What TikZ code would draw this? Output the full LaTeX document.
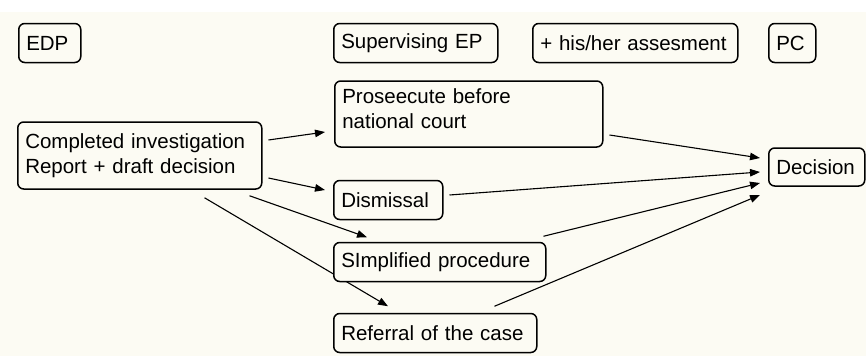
\documentclass[tikz,border=0pt]{standalone}
\usepackage{fontspec}
\setmainfont{Liberation Sans}
\usepackage{tikz}
\usetikzlibrary{arrows.meta}
\usetikzlibrary{positioning}

\definecolor{cream}{RGB}{252,251,243}
\pgfdeclarelayer{bg}
\pgfdeclarelayer{mid}
\pgfsetlayers{bg,mid,main}

\tikzset{
    box/.style={draw, line width=1.5pt, rounded corners=6pt, fill=cream, anchor=west,
        inner xsep=7.5pt, inner ysep=0pt, align=left, minimum height=39pt,
        font=\fontsize{20.5}{24.5}\selectfont},
    link/.style={line width=1.1pt, ->}
}

\begin{document}
\begin{tikzpicture}[x=1pt, y=-1pt, >={Triangle[length=10pt,width=7.5pt]}]
        \useasboundingbox (0,0) rectangle (866,356);
        \begin{pgfonlayer}{bg}
            \fill[cream] (0,12) rectangle (866,356);
        \end{pgfonlayer}

        % headings
        \node[box, text width=47pt] (edp) at (18,43) {EDP};
        \node[box, text width=149pt] (supep) at (333,43) {Supervising EP};
        \node[box, text width=190pt] (assess) at (532,43) {\mbox{+ his/her assesment}};
        \node[box, text width=32pt] (pc) at (768,43) {PC};

        % flow
        \node[box, text width=229pt, minimum height=67pt] (report) at (17,155.5) {Completed investigation\\Report + draft decision};
        \node[box, text width=253pt, minimum height=66pt] (prosec) at (334,114)
            {\parbox[t][50pt][t]{250pt}{Proseecute before\\national court}};
        \node[box, text width=94pt] (dismiss) at (333,200) {Dismissal};
        \node[box, text width=197pt] (simpl) at (333,262) {SImplified procedure};
        \node[box, text width=188pt] (referral) at (333,333) {Referral of the case};
        \node[box, text width=81pt, minimum height=38pt] (decision) at (768,167) {Decision};

        \begin{pgfonlayer}{mid}
        \draw[link] ([shift={(6pt,15.5pt)}]report.east) -- ([shift={(-9pt,-18pt)}]prosec.west);
        \draw[link] ([shift={(6pt,-22.5pt)}]report.east) -- ([shift={(-8pt,10pt)}]dismiss.west);
        \draw[link] ([shift={(-13pt,-6pt)}]report.south east) -- ([shift={(34pt,4.5pt)}]simpl.north west);
        \draw[link] ([shift={(-58pt,-8pt)}]report.south east) -- ([shift={(55pt,6.5pt)}]referral.north west);

        \draw[link] ([shift={(6pt,-21pt)}]prosec.east) -- ([shift={(-8pt,9pt)}]decision.west);
        \draw[link] ([shift={(6pt,5pt)}]dismiss.east) -- ([shift={(-8pt,-5pt)}]decision.west);
        \draw[link] ([shift={(-3pt,5.5pt)}]simpl.north east) -- ([shift={(-8pt,-16pt)}]decision.west);
        \draw[link] ([shift={(-43pt,6.5pt)}]referral.north east) -- ([shift={(-8pt,-28pt)}]decision.west);
        \end{pgfonlayer}
    \end{tikzpicture}
\end{document}
